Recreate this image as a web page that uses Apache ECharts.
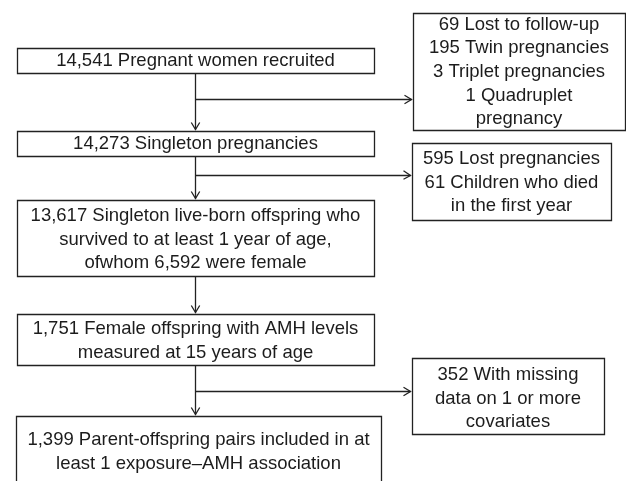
<!DOCTYPE html>
<html>
<head>
<meta charset="utf-8">
<script src="https://cdn.jsdelivr.net/npm/echarts@6/dist/echarts.min.js"></script>
<style>
html,body{margin:0;padding:0;background:#fff;}
#chart{width:626px;height:481px;}
</style>
</head>
<body>
<div id="chart"></div>
<script>
// ---- content (flow steps and exclusions) ----
var mainSteps = [
  "14,541 Pregnant women recruited",
  "14,273 Singleton pregnancies",
  "13,617 Singleton live-born offspring who\nsurvived to at least 1 year of age,\nofwhom 6,592 were female",
  "1,751 Female offspring with AMH levels\nmeasured at 15 years of age",
  "1,399 Parent-offspring pairs included in at\nleast 1 exposure\u2013AMH association"
];
var exclusions = [
  "69 Lost to follow-up\n195 Twin pregnancies\n3 Triplet pregnancies\n1 Quadruplet\npregnancy",
  "595 Lost pregnancies\n61 Children who died\nin the first year",
  "352 With missing\ndata on 1 or more\ncovariates"
];
// which step each exclusion branches off from
var exclusionFrom = [0, 1, 3];

// ---- layout (positions in canvas units, kept apart from content) ----
var mainLayout = [
  {x0: 17, y0: 48,  x1: 374, y1: 73,  ty: 60.5},
  {x0: 17, y0: 131, x1: 374, y1: 156, ty: 143.5},
  {x0: 17, y0: 200, x1: 374, y1: 276, ty: 239.5},
  {x0: 17, y0: 314, x1: 374, y1: 365, ty: 341},
  {x0: 16, y0: 416, x1: 381, y1: 500, ty: 452}
];
var exLayout = [
  {x0: 413, y0: 13,  x1: 625, y1: 130, ty: 72,  by: 99},
  {x0: 412, y0: 143, x1: 611, y1: 220, ty: 182.5, by: 174.5},
  {x0: 412, y0: 358, x1: 604, y1: 434, ty: 398.5, by: 391}
];
var trunkX = 195;
var LINE = '#222';
var TEXT = '#1c1c1c';
var FONT = '"Liberation Sans", Arial, sans-serif';

var boxData = [];
mainSteps.forEach(function (t, i) {
  var L = mainLayout[i];
  boxData.push([L.x0, L.y0, L.x1, L.y1, L.ty, t]);
});
exclusions.forEach(function (t, i) {
  var L = exLayout[i];
  boxData.push([L.x0, L.y0, L.x1, L.y1, L.ty, t]);
});

// arrows: [xStart, yStart, xEnd, yEnd]
var arrowData = [];
for (var i = 0; i < mainSteps.length - 1; i++) {
  arrowData.push([trunkX, mainLayout[i].y1, trunkX, mainLayout[i + 1].y0 - 1.5]);
}
exclusionFrom.forEach(function (from, k) {
  arrowData.push([trunkX, exLayout[k].by, exLayout[k].x0 - 1.5, exLayout[k].by]);
});

var chart = echarts.init(document.getElementById('chart'), null, {renderer: 'canvas'});
chart.setOption({
  animation: false,
  backgroundColor: '#fff',
  grid: {left: 0, right: 0, top: 0, bottom: 0},
  xAxis: {type: 'value', min: 0, max: 626, show: false},
  yAxis: {type: 'value', min: 0, max: 481, inverse: true, show: false},
  series: [
    {
      type: 'custom',
      clip: false,
      data: boxData,
      renderItem: function (params, api) {
        var p0 = api.coord([api.value(0), api.value(1)]);
        var p1 = api.coord([api.value(2), api.value(3)]);
        var ty = api.coord([0, api.value(4)])[1];
        var txt = boxData[params.dataIndex][5];
        return {
          type: 'group',
          children: [
            {
              type: 'rect',
              shape: {x: Math.round(p0[0]) + 0.5, y: Math.round(p0[1]) + 0.5,
                      width: Math.round(p1[0] - p0[0]), height: Math.round(p1[1] - p0[1])},
              style: {fill: '#fff', stroke: LINE, lineWidth: 1.3}
            },
            {
              type: 'text',
              x: (p0[0] + p1[0]) / 2,
              y: ty,
              style: {
                text: txt,
                fill: TEXT,
                font: '18.5px ' + FONT,
                align: 'center',
                verticalAlign: 'middle',
                lineHeight: 23.6
              }
            }
          ]
        };
      }
    },
    {
      type: 'custom',
      clip: false,
      data: arrowData,
      renderItem: function (params, api) {
        var a = api.coord([api.value(0), api.value(1)]);
        var b = api.coord([api.value(2), api.value(3)]);
        var dx = b[0] - a[0], dy = b[1] - a[1];
        var len = Math.sqrt(dx * dx + dy * dy);
        var ux = dx / len, uy = dy / len;
        var hl = 7, hw = 4.2;
        var bx = b[0] - ux * hl, by = b[1] - uy * hl;
        var snap = function (v) { return Math.round(v) + 0.5; };
        var vertical = Math.abs(dx) < 0.01;
        var ax = vertical ? snap(a[0]) : a[0];
        var ay = vertical ? a[1] : snap(a[1]);
        var ex = vertical ? snap(b[0]) : b[0];
        var ey = vertical ? b[1] : snap(b[1]);
        return {
          type: 'group',
          children: [
            {
              type: 'line',
              shape: {x1: ax, y1: ay, x2: ex, y2: ey},
              style: {stroke: LINE, lineWidth: 1.3}
            },
            {
              type: 'polyline',
              shape: {points: [
                [bx - uy * hw + (vertical ? 0.5 : 0), by + ux * hw + (vertical ? 0 : 0.5)],
                [ex, ey],
                [bx + uy * hw + (vertical ? 0.5 : 0), by - ux * hw + (vertical ? 0 : 0.5)]
              ]},
              style: {stroke: LINE, lineWidth: 1.3, fill: null}
            }
          ]
        };
      }
    }
  ]
});
</script>
</body>
</html>
